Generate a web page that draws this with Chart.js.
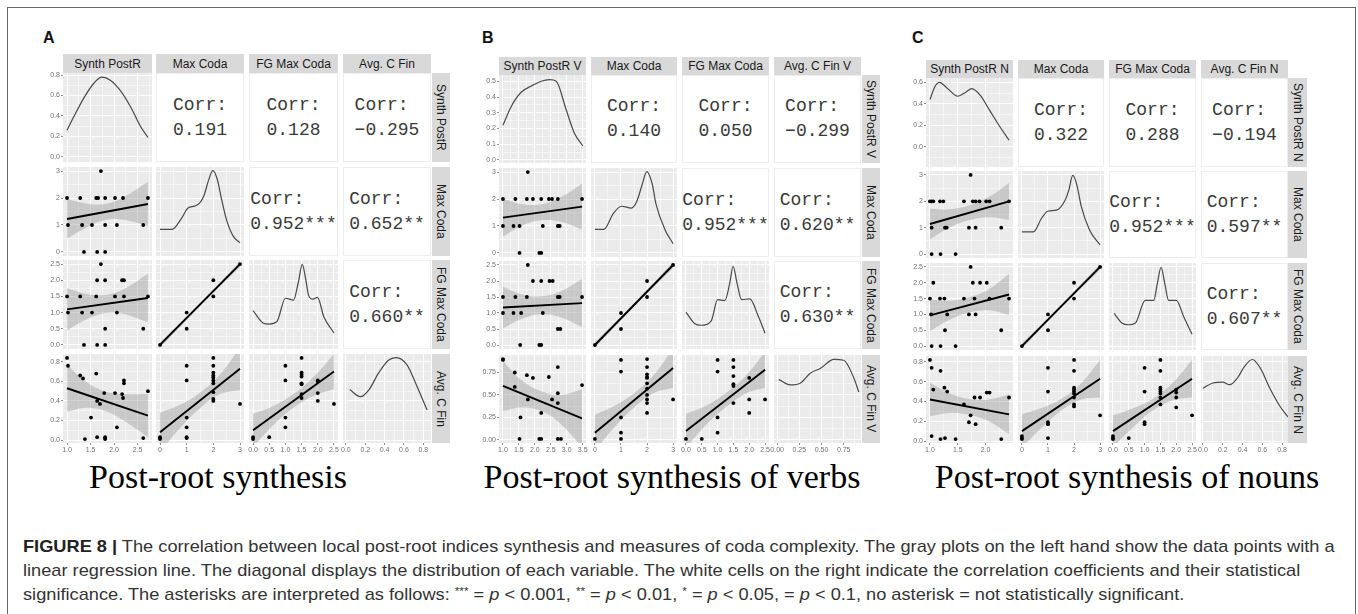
<!DOCTYPE html>
<html>
<head>
<meta charset="utf-8">
<title>Figure 8</title>
<script src="https://cdn.jsdelivr.net/npm/chart.js@4.4.1/dist/chart.umd.min.js"></script>
<style>
  body { margin:0; width:1358px; height:614px; overflow:hidden; position:relative; background:#fff;
         font-family:'Liberation Sans', Arial, sans-serif; }
  #frame { position:absolute; left:7px; top:7px; width:1347px; height:640px; border:1.5px solid #666; border-bottom:none; }
  .lbl { position:absolute; top:30px; font-size:16px; line-height:16px; font-weight:bold; color:#111; }
  .strip { position:absolute; background:#d9d9d9; color:#1a1a1a; font-size:12px; display:flex;
           align-items:center; justify-content:center; white-space:nowrap; overflow:hidden; }
  .strip.v { writing-mode:vertical-rl; }
  .corr { position:absolute; background:#fff; border:1px solid #eeeeee; box-sizing:border-box;
          font-family:'Liberation Mono', monospace; font-size:18px; line-height:25px; color:#3a3a3a;
          display:flex; flex-direction:column; align-items:center; justify-content:center; white-space:pre; }
  .title { position:absolute; top:460px; font-family:'Liberation Serif', 'Times New Roman', serif; font-size:34px;
           line-height:34px; color:#000; white-space:nowrap; transform:translateX(-50%); }
  #caption { position:absolute; left:23px; top:535px; font-size:17px; line-height:24px; color:#333;
             white-space:nowrap; transform-origin:0 0; }
  #caption b { color:#222; }
  #caption sup { font-size:11px; line-height:0; vertical-align:5px; }
  canvas { position:absolute; }
</style>
</head>
<body>
<div id="frame"></div>
<div class="lbl" style="left:43px">A</div>
<div class="lbl" style="left:482px">B</div>
<div class="lbl" style="left:912px">C</div>
<div class="title" style="left:218px">Post-root synthesis</div>
<div class="title" style="left:672px">Post-root synthesis of verbs</div>
<div class="title" style="left:1127px">Post-root synthesis of nouns</div>
<div id="caption">
  <div id="cl1"><b>FIGURE 8 |</b> The correlation between local post-root indices synthesis and measures of coda complexity. The gray plots on the left hand show the data points with a</div>
  <div>linear regression line. The diagonal displays the distribution of each variable. The white cells on the right indicate the correlation coefficients and their statistical</div>
  <div>significance. The asterisks are interpreted as follows: <sup>***</sup> = <i>p</i> &lt; 0.001, <sup>**</sup> = <i>p</i> &lt; 0.01, <sup>*</sup> = <i>p</i> &lt; 0.05, = <i>p</i> &lt; 0.1, no asterisk = not statistically significant.</div>
</div>
<script>
// ---------- Panel A : Post-root synthesis ----------
const namesA = ['Synth PostR', 'Max Coda', 'FG Max Coda', 'Avg. C Fin'];
const corrA = ['0.191', '0.128', '\u22120.295', '0.952***', '0.652**', '0.660**'];
const rangeA = [[0.914, 2.806], [-0.15, 3.15], [-0.125, 2.625], [-0.03, 0.88]];
const ticksA = [[1.0, 1.5, 2.0, 2.5], [0, 1, 2, 3], [0, 0.5, 1, 1.5, 2, 2.5], [0, 0.2, 0.4, 0.6, 0.8]];
const digitsA = [1, 0, 1, 1];
const densRangeA = [-0.05, 0.82];
const densTicksA = [0, 0.2, 0.4, 0.6, 0.8];

// diagonal densities (first one in density units, others as share of the cell height)
const densA1 = [[1.0,0.26],[1.14,0.39],[1.35,0.57],[1.57,0.72],[1.74,0.78],[1.92,0.75],[2.13,0.65],[2.35,0.49],[2.56,0.30],[2.72,0.19]];
const densA2 = [[0,0.30],[0.45,0.30],[0.8,0.42],[1.05,0.54],[1.3,0.56],[1.5,0.6],[1.65,0.68],[1.82,0.85],[1.98,0.96],[2.15,0.86],[2.3,0.65],[2.5,0.4],[2.75,0.22],[3.0,0.15]];
const densA3 = [[0,0.43],[0.32,0.29],[0.5,0.28],[0.74,0.31],[1.0,0.57],[1.25,0.55],[1.4,0.75],[1.52,0.95],[1.62,0.8],[1.72,0.6],[1.85,0.56],[1.99,0.58],[2.19,0.36],[2.5,0.18]];
const densA4 = [[0.04,0.6],[0.15,0.52],[0.24,0.6],[0.34,0.79],[0.44,0.93],[0.52,0.96],[0.63,0.88],[0.73,0.65],[0.84,0.37]];

// scatter cells: points, regression line [x0,y0,x1,y1], band [x, low, high]
const ptsA21 = [[1.72,3],[1.0,2],[1.28,2],[1.62,2],[1.66,2],[1.81,2],[2.02,2],[2.19,2],[2.72,2],[1.02,1],[1.32,1],[1.53,1],[1.81,1],[2.06,1],[2.62,1],[1.36,0],[1.64,0],[1.81,0]];
const lineA21 = [1.0, 1.22, 2.72, 1.78];
const bandA21 = [[1.0,0.49,1.95],[1.4,0.9,1.8],[1.8,1.18,1.78],[2.2,1.19,2.03],[2.72,0.96,2.6]];
const ptsA31 = [[1.72,2.5],[1.64,2],[1.81,2],[2.17,2],[2.21,2],[1.0,1.5],[1.28,1.5],[1.62,1.5],[2.02,1.5],[2.21,1.5],[2.72,1.5],[1.02,1],[1.32,1],[1.53,1],[2.06,1],[1.81,0.5],[2.62,0.5],[1.36,0],[1.64,0],[1.81,0]];
const lineA31 = [1.0, 1.1, 2.72, 1.45];
const bandA31 = [[1.0,0.45,1.75],[1.4,0.78,1.58],[1.8,0.98,1.54],[2.2,0.96,1.72],[2.72,0.7,2.2]];
const ptsA41 = [[1.0,0.84],[1.02,0.76],[1.28,0.66],[1.34,0.63],[1.62,0.68],[2.21,0.61],[2.21,0.58],[1.79,0.48],[2.02,0.48],[2.17,0.47],[2.19,0.43],[1.64,0.40],[1.70,0.37],[1.51,0.23],[2.06,0.13],[2.72,0.5],[1.38,0.01],[1.64,0.03],[1.81,0.03],[1.81,0.02],[1.81,0.01],[2.62,0.02]];
const lineA41 = [1.0, 0.53, 2.72, 0.25];
const bandA41 = [[1.0,0.29,0.77],[1.4,0.33,0.6],[1.8,0.3,0.5],[2.2,0.2,0.47],[2.72,0.03,0.47]];
const ptsA32 = [[0,0],[1,0.5],[1,1],[2,1.5],[2,2],[3,2.5]];
const lineA32 = [0, 0, 3, 2.5];
const bandA32 = [[0,-0.09,0.09],[1.5,1.2,1.3],[3,2.41,2.59]];
const ptsA42 = [[0,0.03],[0,0.02],[0,0.01],[1,0.76],[1,0.61],[1,0.23],[1,0.13],[1,0.03],[1,0.02],[2,0.84],[2,0.76],[2,0.69],[2,0.66],[2,0.64],[2,0.61],[2,0.58],[2,0.49],[2,0.42],[2,0.4],[3,0.37]];
const lineA42 = [0, 0.08, 3, 0.73];
const bandA42 = [[0,-0.12,0.28],[0.75,0.12,0.36],[1.5,0.325,0.485],[2.25,0.47,0.67],[3,0.51,0.95]];
const ptsA43 = [[0,0.03],[0,0.01],[0.5,0.03],[1,0.76],[1,0.61],[1,0.23],[1,0.13],[1.5,0.84],[1.5,0.69],[1.5,0.67],[1.5,0.65],[1.5,0.58],[1.5,0.57],[1.5,0.47],[1.5,0.43],[2,0.61],[2,0.6],[2,0.48],[2,0.4],[2.5,0.37]];
const lineA43 = [0, 0.1, 2.5, 0.7];
const bandA43 = [[0,-0.07,0.27],[0.6,0.144,0.344],[1.25,0.33,0.47],[1.9,0.456,0.656],[2.5,0.52,0.88]];

// ---------- Panel B : verbs ----------
const namesB = ['Synth PostR V', 'Max Coda', 'FG Max Coda', 'Avg. C Fin V'];
const corrB = ['0.140', '0.050', '\u22120.299', '0.952***', '0.620**', '0.630**'];
const rangeB = [[0.876, 3.604], [-0.15, 3.15], [-0.125, 2.625], [-0.035, 0.945]];
const ticksB = [[1.0, 1.5, 2.0, 2.5, 3.0, 3.5], [0, 1, 2, 3], [0, 0.5, 1, 1.5, 2, 2.5], [0, 0.25, 0.5, 0.75]];
const digitsB = [1, 0, 1, 2];
const densRangeB = [-0.02, 0.54];
const densTicksB = [0, 0.1, 0.2, 0.3, 0.4, 0.5];

const densB1 = [[1.0,0.22],[1.26,0.34],[1.57,0.43],[1.89,0.47],[2.2,0.5],[2.46,0.51],[2.67,0.5],[2.98,0.32],[3.24,0.17],[3.5,0.09]];
const densB2 = [[0,0.31],[0.34,0.31],[0.71,0.49],[1.02,0.57],[1.4,0.55],[1.6,0.62],[1.8,0.8],[1.99,0.96],[2.2,0.82],[2.34,0.6],[2.7,0.3],[3.0,0.15]];
const densB3 = [[0,0.42],[0.27,0.29],[0.48,0.27],[0.8,0.32],[1.0,0.56],[1.23,0.55],[1.38,0.74],[1.49,0.94],[1.62,0.74],[1.76,0.56],[2.02,0.57],[2.29,0.37],[2.5,0.18]];
const densB4 = [[0.02,0.72],[0.15,0.66],[0.26,0.68],[0.37,0.79],[0.49,0.85],[0.64,0.95],[0.75,0.94],[0.86,0.75],[0.92,0.58]];

const ptsB21 = [[1.78,3],[1.0,2],[1.39,2],[1.75,2],[1.94,2],[2.2,2],[2.44,2],[2.54,2],[2.72,2],[3.48,2],[1.0,1],[1.33,1],[1.52,1],[2.25,1],[2.72,1],[2.78,1],[1.52,0],[2.14,0],[2.2,0]];
const lineB21 = [1.0, 1.31, 3.48, 1.72];
const bandB21 = [[1.0,0.61,2.01],[1.6,1.01,1.81],[2.2,1.21,1.81],[2.8,1.16,2.06],[3.48,0.87,2.57]];
const ptsB31 = [[1.78,2.5],[1.94,2],[2.2,2],[2.46,2],[2.56,2],[1.0,1.5],[1.39,1.5],[1.75,1.5],[2.72,1.5],[2.78,1.5],[3.48,1.5],[1.0,1],[1.33,1],[1.57,1],[2.25,1],[2.72,0.5],[2.8,0.5],[1.54,0],[2.14,0],[2.2,0]];
const lineB31 = [1.0, 1.17, 3.48, 1.31];
const bandB31 = [[1.0,0.52,1.82],[1.6,0.82,1.58],[2.2,0.96,1.52],[2.8,0.87,1.67],[3.48,0.56,2.06]];
const ptsB41 = [[1.0,0.90],[1.0,0.89],[1.37,0.75],[1.75,0.72],[1.94,0.69],[2.44,0.7],[2.72,0.81],[3.48,0.61],[1.37,0.59],[1.78,0.45],[2.54,0.45],[2.72,0.52],[2.72,0.41],[2.2,0.3],[1.55,0.25],[1.52,0.01],[2.14,0.01],[2.2,0.01],[2.72,0.01],[2.82,0.01]];
const lineB41 = [1.0, 0.6, 3.48, 0.24];
const bandB41 = [[1.0,0.32,0.88],[1.6,0.36,0.66],[2.2,0.32,0.54],[2.8,0.18,0.5],[3.48,-0.08,0.56]];
const ptsB32 = [[0,0],[1,0.5],[1,1],[2,1.5],[2,2],[3,2.5]];
const lineB32 = [0, 0, 3, 2.5];
const bandB32 = [[0,-0.09,0.09],[1.5,1.2,1.3],[3,2.41,2.59]];
const ptsB42 = [[0,0.01],[1,0.89],[1,0.76],[1,0.25],[1,0.08],[1,0.01],[2,0.9],[2,0.81],[2,0.73],[2,0.7],[2,0.69],[2,0.63],[2,0.57],[2,0.5],[2,0.45],[2,0.41],[2,0.3],[3,0.45]];
const lineB42 = [0, 0.08, 3, 0.8];
const bandB42 = [[0,-0.12,0.28],[0.75,0.14,0.38],[1.5,0.36,0.52],[2.25,0.52,0.72],[3,0.58,1.02]];
const ptsB43 = [[0,0.01],[0.5,0.01],[1,0.89],[1,0.76],[1,0.25],[1,0.08],[1.5,0.89],[1.5,0.81],[1.5,0.71],[1.5,0.62],[1.5,0.6],[1.5,0.41],[2,0.69],[2,0.45],[2,0.3],[2.5,0.45]];
const lineB43 = [0, 0.1, 2.5, 0.78];
const bandB43 = [[0,-0.09,0.29],[0.6,0.153,0.373],[1.25,0.36,0.52],[1.9,0.517,0.717],[2.5,0.58,0.98]];

// ---------- Panel C : nouns ----------
const namesC = ['Synth PostR N', 'Max Coda', 'FG Max Coda', 'Avg. C Fin N'];
const corrC = ['0.322', '0.288', '\u22120.194', '0.952***', '0.597**', '0.607**'];
const rangeC = [[0.929, 2.491], [-0.15, 3.15], [-0.125, 2.625], [-0.02, 0.86]];
const ticksC = [[1.0, 1.5, 2.0], [0, 1, 2, 3], [0, 0.5, 1, 1.5, 2, 2.5], [0, 0.2, 0.4, 0.6, 0.8]];
const digitsC = [1, 0, 1, 1];
const densRangeC = [-0.19, 0.64];
const densTicksC = [0, 0.2, 0.4, 0.6, 0.8];

const densC1 = [[1.0,0.44],[1.1,0.57],[1.17,0.6],[1.3,0.55],[1.5,0.47],[1.65,0.51],[1.75,0.54],[1.9,0.48],[2.07,0.34],[2.25,0.19],[2.42,0.06]];
const densC2 = [[0,0.3],[0.44,0.3],[0.76,0.46],[1.01,0.54],[1.33,0.55],[1.65,0.66],[1.8,0.78],[1.95,0.95],[2.1,0.85],[2.28,0.59],[2.6,0.32],[3.0,0.15]];
const densC3 = [[0.04,0.42],[0.28,0.31],[0.5,0.29],[0.71,0.31],[1.02,0.57],[1.29,0.57],[1.4,0.76],[1.52,0.95],[1.64,0.76],[1.76,0.57],[2.0,0.57],[2.24,0.38],[2.5,0.18]];
const densC4 = [[0,0.63],[0.1,0.69],[0.2,0.7],[0.27,0.67],[0.35,0.75],[0.42,0.88],[0.5,0.96],[0.58,0.86],[0.68,0.62],[0.78,0.42],[0.86,0.3]];

const ptsC21 = [[1.73,3],[1.0,2],[1.03,2],[1.06,2],[1.18,2],[1.24,2],[1.61,2],[1.77,2],[1.82,2],[1.89,2],[2.01,2],[2.07,2],[2.42,2],[1.03,1],[1.27,1],[1.3,1],[1.7,1],[1.82,1],[2.28,1],[1.03,0],[1.19,0],[1.46,0]];
const lineC21 = [1.0, 1.14, 2.42, 2.0];
const bandC21 = [[1.0,0.56,1.72],[1.35,1.0,1.7],[1.7,1.28,1.84],[2.05,1.4,2.16],[2.42,1.3,2.7]];
const ptsC31 = [[1.73,2.5],[1.06,2],[1.77,2],[1.9,2],[2.02,2],[1.0,1.5],[1.18,1.5],[1.26,1.5],[1.61,1.5],[1.8,1.5],[2.07,1.5],[2.42,1.5],[1.02,1],[1.31,1],[1.7,1],[1.82,1],[1.27,0.5],[2.28,0.5],[1.03,0],[1.19,0],[1.46,0]];
const lineC31 = [1.0, 0.97, 2.42, 1.63];
const bandC31 = [[1.0,0.47,1.47],[1.35,0.83,1.43],[1.7,1.06,1.54],[2.05,1.13,1.79],[2.42,0.98,2.28]];
const ptsC41 = [[1.0,0.82],[1.03,0.74],[1.19,0.71],[1.06,0.52],[1.26,0.54],[1.31,0.5],[1.61,0.37],[1.7,0.19],[1.73,0.26],[1.8,0.44],[1.82,0.17],[1.9,0.44],[2.02,0.49],[2.07,0.49],[2.42,0.44],[1.03,0.05],[1.19,0.02],[1.27,0.03],[1.46,0.02],[2.28,0.02]];
const lineC41 = [1.0, 0.42, 2.42, 0.27];
const bandC41 = [[1.0,0.25,0.59],[1.35,0.283,0.483],[1.7,0.266,0.426],[2.05,0.2,0.42],[2.42,0.07,0.47]];
const ptsC32 = [[0,0],[1,0.5],[1,1],[2,1.5],[2,2],[3,2.5]];
const lineC32 = [0, 0, 3, 2.5];
const bandC32 = [[0,-0.09,0.09],[1.5,1.2,1.3],[3,2.41,2.59]];
const ptsC42 = [[0,0.05],[0,0.03],[0,0.02],[1,0.74],[1,0.5],[1,0.19],[1,0.17],[1,0.03],[2,0.82],[2,0.71],[2,0.54],[2,0.52],[2,0.5],[2,0.48],[2,0.44],[2,0.37],[2,0.35],[3,0.26]];
const lineC42 = [0, 0.1, 3, 0.63];
const bandC42 = [[0,-0.07,0.27],[0.75,0.133,0.333],[1.5,0.305,0.425],[2.25,0.418,0.578],[3,0.44,0.82]];
const ptsC43 = [[0,0.05],[0,0.03],[0,0.02],[0.5,0.03],[1,0.74],[1,0.5],[1,0.19],[1,0.17],[1.5,0.82],[1.5,0.71],[1.5,0.54],[1.5,0.52],[1.5,0.5],[1.5,0.48],[1.5,0.44],[1.5,0.37],[2,0.52],[2,0.49],[2,0.44],[2,0.34],[2.5,0.26]];
const lineC43 = [0, 0.1, 2.5, 0.63];
const bandC43 = [[0,-0.06,0.26],[0.6,0.127,0.327],[1.25,0.305,0.425],[1.9,0.413,0.593],[2.5,0.44,0.82]];

// ---------- drawing ----------
Chart.defaults.font.family = "'Liberation Sans', Arial, sans-serif";

const panelBg = {
  id: 'panelBg',
  beforeDraw(chart) {
    const a = chart.chartArea, ctx = chart.ctx;
    ctx.save();
    ctx.fillStyle = '#ebebeb';
    ctx.fillRect(a.left, a.top, a.right - a.left, a.bottom - a.top);
    ctx.restore();
  }
};

function withMinor(majors, r) {
  const step = majors[1] - majors[0];
  const out = [majors[0] - step / 2];
  majors.forEach(m => { out.push(m); out.push(m + step / 2); });
  return out.filter(v => v >= r[0] - 1e-9 && v <= r[1] + 1e-9);
}

function axis(spec, show, dir, size) {
  const majors = spec.ticks;
  const all = withMinor(majors, spec.range);
  const isMajor = v => majors.some(m => Math.abs(m - v) < 1e-9);
  return {
    type: 'linear', position: dir === 'x' ? 'bottom' : 'left',
    min: spec.range[0], max: spec.range[1],
    afterBuildTicks: s => { s.ticks = all.map(v => ({ value: v })); },
    afterFit: s => {
      if (dir === 'x') s.height = size; else s.width = size;
      s.paddingLeft = s.paddingRight = s.paddingTop = s.paddingBottom = 0;
    },
    ticks: {
      display: show, autoSkip: false, maxRotation: 0, minRotation: 0, padding: 1,
      font: { size: 7 }, color: '#6e6e6e',
      callback: v => isMajor(v) ? v.toFixed(spec.digits) : ''
    },
    grid: {
      color: '#ffffff', drawTicks: show, tickLength: 2,
      lineWidth: c => isMajor(c.tick.value) ? 1 : 0.5,
      tickColor: c => isMajor(c.tick.value) ? '#8a8a8a' : 'rgba(0,0,0,0)'
    },
    border: { display: false }
  };
}

function makeChart(box, xs, ys, datasets, showX, showY, axW) {
  const pad = 6, xh = showX ? 12 : 0, yw = showY ? axW : 0;
  const cv = document.createElement('canvas');
  cv.width = box.w + yw + 2 * pad;
  cv.height = box.h + xh + 2 * pad;
  cv.style.left = (box.x - yw - pad) + 'px';
  cv.style.top = (box.y - pad) + 'px';
  document.body.appendChild(cv);
  new Chart(cv, {
    type: 'line',
    data: { datasets },
    options: {
      responsive: false, animation: false, events: [],
      layout: { padding: pad },
      plugins: { legend: { display: false }, tooltip: { enabled: false } },
      scales: { x: axis(xs, showX, 'x', xh), y: axis(ys, showY, 'y', yw) }
    },
    plugins: [panelBg]
  });
}

const xy = arr => arr.map(([x, y]) => ({ x, y }));

function scatterSets(pts, line, band) {
  const hidden = 'rgba(0,0,0,0)';
  return [
    { data: xy(pts), showLine: false, pointRadius: 1.9, pointBackgroundColor: '#000', pointBorderWidth: 0, clip: 4 },
    { data: [{ x: line[0], y: line[1] }, { x: line[2], y: line[3] }], borderColor: '#000', borderWidth: 1.9, pointRadius: 0, clip: 0 },
    { data: band.map(b => ({ x: b[0], y: b[1] })), borderColor: hidden, borderWidth: 0.01, pointRadius: 0, tension: 0.4, clip: 0 },
    { data: band.map(b => ({ x: b[0], y: b[2] })), borderColor: hidden, borderWidth: 0.01, pointRadius: 0, tension: 0.4, clip: 0,
      fill: '-1', backgroundColor: 'rgba(153,153,153,0.42)' }
  ];
}

function addDiv(cls, x, y, w, h, text) {
  const d = document.createElement('div');
  d.className = cls;
  d.style.left = x + 'px'; d.style.top = y + 'px';
  d.style.width = w + 'px'; d.style.height = h + 'px';
  d.textContent = text;
  document.body.appendChild(d);
  return d;
}

function buildPanel(p) {
  const L = p.layout;
  for (let c = 0; c < 4; c++) addDiv('strip', L.cols[c], L.stripY, L.colW[c], L.rows[0] - L.stripY, p.names[c]);
  for (let r = 0; r < 4; r++) addDiv('strip v', L.stripX, L.rows[r], L.stripW, L.rowH[r], p.names[r]);
  const spec = i => ({ range: p.range[i], ticks: p.ticks[i], digits: p.digits[i] });
  let k = 0;
  for (let r = 0; r < 4; r++) {
    for (let c = 0; c < 4; c++) {
      const box = { x: L.cols[c], y: L.rows[r], w: L.colW[c], h: L.rowH[r] };
      if (c > r) {
        addDiv('corr', box.x, box.y, box.w, box.h, 'Corr:\n' + p.corr[k++]);
      } else if (c === r) {
        let ys, pts;
        if (r === 0) {
          ys = { range: p.densRange, ticks: p.densTicks, digits: 1 };
          pts = xy(p.dens[0]);
        } else {
          ys = spec(r);
          const [lo, hi] = p.range[r];
          pts = p.dens[r].map(([x, v]) => ({ x, y: lo + v * (hi - lo) }));
        }
        const ds = [{ data: pts, borderColor: '#4a4a4a', borderWidth: 1.2, pointRadius: 0, cubicInterpolationMode: 'monotone', clip: 0 }];
        makeChart(box, spec(c), ys, ds, r === 3, c === 0, L.axW);
      } else {
        const s = p.scatter[(r + 1) + '' + (c + 1)];
        makeChart(box, spec(c), spec(r), scatterSets(s[0], s[1], s[2]), r === 3, c === 0, L.axW);
      }
    }
  }
}

buildPanel({
  layout: { cols: [63, 156, 249, 343], colW: [89, 88, 89, 88], rows: [73, 167, 260, 354], rowH: [89, 89, 89, 89], stripY: 54, stripX: 432, stripW: 18, axW: 22 },
  names: namesA, corr: corrA, range: rangeA, ticks: ticksA, digits: digitsA,
  densRange: densRangeA, densTicks: densTicksA, dens: [densA1, densA2, densA3, densA4],
  scatter: { '21': [ptsA21, lineA21, bandA21], '31': [ptsA31, lineA31, bandA31], '41': [ptsA41, lineA41, bandA41],
             '32': [ptsA32, lineA32, bandA32], '42': [ptsA42, lineA42, bandA42], '43': [ptsA43, lineA43, bandA43] }
});
buildPanel({
  layout: { cols: [499, 591, 682, 774], colW: [87, 86, 87, 87], rows: [75, 168, 261, 355], rowH: [88, 89, 88, 88], stripY: 57, stripX: 862, stripW: 18, axW: 19 },
  names: namesB, corr: corrB, range: rangeB, ticks: ticksB, digits: digitsB,
  densRange: densRangeB, densTicks: densTicksB, dens: [densB1, densB2, densB3, densB4],
  scatter: { '21': [ptsB21, lineB21, bandB21], '31': [ptsB31, lineB31, bandB31], '41': [ptsB41, lineB41, bandB41],
             '32': [ptsB32, lineB32, bandB32], '42': [ptsB42, lineB42, bandB42], '43': [ptsB43, lineB43, bandB43] }
});
buildPanel({
  layout: { cols: [926, 1018, 1109, 1201], colW: [87, 86, 87, 87], rows: [78, 171, 263, 356], rowH: [89, 87, 87, 87], stripY: 60, stripX: 1288, stripW: 19, axW: 17 },
  names: namesC, corr: corrC, range: rangeC, ticks: ticksC, digits: digitsC,
  densRange: densRangeC, densTicks: densTicksC, dens: [densC1, densC2, densC3, densC4],
  scatter: { '21': [ptsC21, lineC21, bandC21], '31': [ptsC31, lineC31, bandC31], '41': [ptsC41, lineC41, bandC41],
             '32': [ptsC32, lineC32, bandC32], '42': [ptsC42, lineC42, bandC42], '43': [ptsC43, lineC43, bandC43] }
});

// squeeze the caption so its first line spans the same width as in the figure
const cap = document.getElementById('caption');
const w1 = document.getElementById('cl1').scrollWidth;
cap.style.transform = 'scaleX(' + (1312 / w1) + ')';
</script>
</body>
</html>
